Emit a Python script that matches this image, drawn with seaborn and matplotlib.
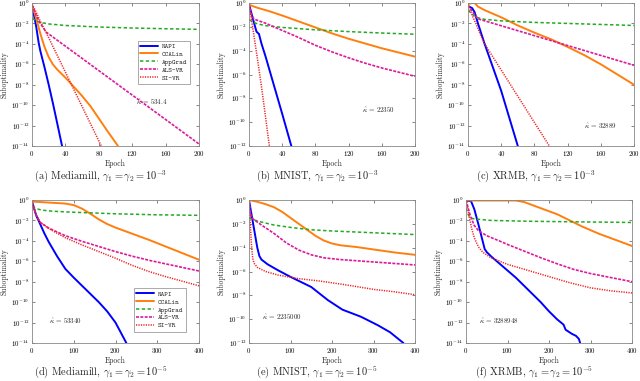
import numpy as np
import pandas as pd
import matplotlib
matplotlib.use("Agg")
import matplotlib.pyplot as plt
import seaborn as sns

# log10 of suboptimality
methods = ['NAPI', 'CCALin', 'AppGrad', 'ALS-VR', 'SI-VR']

# (a) Mediamill, gamma = 1e-3
a_napi_x = [0, 5, 8, 10, 15, 20, 25, 30, 36]
a_napi_y = [-0.2, -2.3, -3.9, -4.7, -6.3, -8.0, -9.8, -11.7, -14]
a_ccal_x = [0, 5, 10, 15, 20, 25, 30, 35, 40, 50, 60, 70, 80, 90, 103]
a_ccal_y = [-0.2, -1.5, -3.0, -4.3, -5.3, -6.0, -6.5, -6.9, -7.3, -8.2, -9.1, -10.1, -11.3, -12.5, -14]
a_app_x = [0, 5, 10, 20, 40, 80, 120, 160, 200]
a_app_y = [-1.5, -1.75, -1.9, -2.05, -2.2, -2.35, -2.45, -2.52, -2.58]
a_als_x = [0, 5, 10, 17, 200]
a_als_y = [-0.2, -1.2, -2.0, -2.85, -13.8]
a_si_x = [0, 5, 10, 17, 83]
a_si_y = [-0.1, -0.9, -1.8, -2.9, -14]

# (b) MNIST, gamma = 1e-3
b_napi_x = [0, 5, 9, 12, 15, 20, 30, 40, 51]
b_napi_y = [-0.1, -1.4, -2.4, -2.6, -3.4, -4.5, -6.9, -9.3, -12]
b_ccal_x = [0, 10, 25, 40, 60, 80, 100, 120, 140, 160, 180, 200]
b_ccal_y = [-0.15, -0.4, -0.7, -1.05, -1.55, -2.05, -2.55, -3.0, -3.4, -3.8, -4.15, -4.5]
b_app_x = [0, 5, 10, 20, 40, 80, 120, 160, 200]
b_app_y = [-1.4, -1.6, -1.75, -1.9, -2.05, -2.25, -2.4, -2.52, -2.62]
b_als_x = [0, 3, 6, 20, 40, 60, 80, 100, 120, 140, 160, 180, 200]
b_als_y = [-0.1, -1.0, -1.35, -1.7, -2.3, -2.9, -3.55, -4.1, -4.6, -5.05, -5.45, -5.8, -6.15]
b_si_x = [0, 5, 10, 15, 20, 24.5]
b_si_y = [-0.1, -2.3, -4.6, -7.0, -9.6, -12]

# (c) XRMB, gamma = 1e-3
c_napi_x = [0, 5, 8, 12, 20, 30, 40, 50, 60]
c_napi_y = [-0.3, -0.5, -0.9, -2.0, -4.0, -6.3, -8.6, -11.3, -14]
c_ccal_x = [0, 5, 8, 12, 20, 40, 60, 80, 100, 120, 140, 160, 180, 200]
c_ccal_y = [-0.1, 0.0, 0.0, -0.35, -0.7, -1.4, -2.2, -2.9, -3.55, -4.3, -5.1, -6.0, -7.0, -8.0]
c_app_x = [0, 5, 10, 20, 40, 80, 120, 160, 200]
c_app_y = [-0.7, -1.1, -1.4, -1.6, -1.75, -1.9, -2.0, -2.1, -2.2]
c_als_x = [0, 5, 12, 200]
c_als_y = [-0.2, -0.8, -1.55, -6.1]
c_si_x = [0, 5, 10, 15, 20, 98]
c_si_y = [-0.2, -1.2, -2.1, -3.1, -4.0, -14]

# (d) Mediamill, gamma = 1e-5
d_napi_x = [0, 10, 20, 30, 40, 60, 80, 100, 120, 140, 160, 180, 200, 226]
d_napi_y = [-0.15, -1.5, -2.4, -3.3, -4.1, -5.5, -6.75, -7.6, -8.4, -9.2, -10.0, -10.9, -12.0, -14]
d_ccal_x = [0, 40, 80, 100, 120, 140, 160, 180, 200, 240, 280, 320, 360, 400]
d_ccal_y = [-0.15, -0.25, -0.35, -0.5, -0.85, -1.35, -1.9, -2.35, -2.7, -3.3, -3.9, -4.55, -5.2, -5.85]
d_app_x = [0, 10, 25, 50, 100, 200, 300, 400]
d_app_y = [-0.7, -0.85, -1.0, -1.1, -1.2, -1.35, -1.45, -1.5]
d_als_x = [0, 10, 20, 40, 80, 120, 160, 200, 240, 280, 320, 360, 400]
d_als_y = [-0.15, -1.5, -2.2, -2.75, -3.5, -4.05, -4.55, -5.05, -5.5, -5.9, -6.25, -6.6, -6.95]
d_si_x = [0, 10, 20, 40, 80, 120, 160, 200, 240, 280, 320, 360, 400]
d_si_y = [-0.15, -1.5, -2.2, -2.8, -3.7, -4.4, -5.05, -5.7, -6.4, -7.0, -7.5, -7.95, -8.4]

# (e) MNIST, gamma = 1e-5
e_napi_x = [0, 5, 10, 15, 20, 25, 30, 45, 70, 100, 150, 190, 225, 270, 310, 340, 372]
e_napi_y = [0, -1.0, -2.0, -3.0, -4.0, -4.7, -5.0, -5.4, -5.9, -6.45, -7.3, -8.4, -9.2, -9.8, -10.5, -11.1, -12]
e_ccal_x = [0, 20, 40, 60, 80, 100, 120, 140, 160, 180, 200, 220, 260, 300, 350, 400]
e_ccal_y = [0, -0.15, -0.35, -0.6, -1.0, -1.5, -2.0, -2.5, -3.0, -3.4, -3.65, -3.8, -3.95, -4.15, -4.4, -4.6]
e_app_x = [0, 10, 30, 60, 100, 150, 200, 300, 400]
e_app_y = [-1.5, -1.65, -1.85, -2.1, -2.3, -2.5, -2.6, -2.75, -2.9]
e_als_x = [0, 5, 10, 30, 60, 90, 120, 150, 180, 220, 300, 400]
e_als_y = [-0.1, -1.4, -1.6, -2.1, -2.8, -3.6, -4.2, -4.6, -4.85, -5.0, -5.2, -5.45]
e_si_x = [0, 3, 6, 9, 12, 20, 40, 70, 120, 170, 230, 300, 350, 400]
e_si_y = [0, -2.0, -3.8, -4.9, -5.3, -5.65, -6.0, -6.3, -6.6, -6.8, -7.1, -7.5, -7.7, -7.95]

# (f) XRMB, gamma = 1e-5
f_napi_x = [0, 12, 20, 30, 40, 45, 50, 60, 80, 100, 120, 140, 160, 180, 200, 220, 235, 240, 255, 265, 272, 275]
f_napi_y = [-0.1, -0.1, -0.9, -2.4, -4.0, -4.8, -5.1, -5.5, -6.2, -6.9, -7.6, -8.4, -9.2, -10.0, -10.9, -11.7, -12.2, -12.7, -13.1, -13.3, -13.6, -14]
f_ccal_x = [0, 120, 140, 160, 180, 200, 220, 240, 260, 280, 300, 320, 360, 400]
f_ccal_y = [-0.05, -0.05, -0.2, -0.5, -0.8, -1.1, -1.4, -1.8, -2.2, -2.6, -2.95, -3.3, -3.9, -4.5]
f_app_x = [0, 5, 10, 20, 60, 150, 250, 400]
f_app_y = [-0.8, -1.4, -1.75, -1.85, -2.0, -2.08, -2.13, -2.2]
f_als_x = [0, 10, 20, 30, 50, 80, 100, 140, 180, 220, 260, 300, 350, 400]
f_als_y = [0, -1.5, -2.5, -3.0, -3.5, -4.0, -4.35, -5.0, -5.65, -6.25, -6.8, -7.2, -7.6, -8.0]
f_si_x = [0, 5, 10, 15, 20, 30, 40, 60, 100, 150, 200, 250, 300, 350, 400]
f_si_y = [0, -1.0, -2.1, -3.0, -3.7, -4.6, -5.1, -5.65, -6.3, -6.9, -7.5, -8.1, -8.6, -8.9, -9.1]

captions = [
    r'(a) Mediamill, $\gamma_1 = \gamma_2 = 10^{-3}$',
    r'(b) MNIST, $\gamma_1 = \gamma_2 = 10^{-3}$',
    r'(c) XRMB, $\gamma_1 = \gamma_2 = 10^{-3}$',
    r'(d) Mediamill, $\gamma_1 = \gamma_2 = 10^{-5}$',
    r'(e) MNIST, $\gamma_1 = \gamma_2 = 10^{-5}$',
    r'(f) XRMB, $\gamma_1 = \gamma_2 = 10^{-5}$',
]
kappas = ['534.4', '22350', '32889', '53340', '2235000', '3288948']
x_max = [200, 200, 200, 400, 400, 400]
y_min = [-14, -12, -14, -14, -12, -14]

panels = [
    [(a_napi_x, a_napi_y), (a_ccal_x, a_ccal_y), (a_app_x, a_app_y), (a_als_x, a_als_y), (a_si_x, a_si_y)],
    [(b_napi_x, b_napi_y), (b_ccal_x, b_ccal_y), (b_app_x, b_app_y), (b_als_x, b_als_y), (b_si_x, b_si_y)],
    [(c_napi_x, c_napi_y), (c_ccal_x, c_ccal_y), (c_app_x, c_app_y), (c_als_x, c_als_y), (c_si_x, c_si_y)],
    [(d_napi_x, d_napi_y), (d_ccal_x, d_ccal_y), (d_app_x, d_app_y), (d_als_x, d_als_y), (d_si_x, d_si_y)],
    [(e_napi_x, e_napi_y), (e_ccal_x, e_ccal_y), (e_app_x, e_app_y), (e_als_x, e_als_y), (e_si_x, e_si_y)],
    [(f_napi_x, f_napi_y), (f_ccal_x, f_ccal_y), (f_app_x, f_app_y), (f_als_x, f_als_y), (f_si_x, f_si_y)],
]

colors = {'NAPI': '#0000ff', 'CCALin': '#ff7f0e', 'AppGrad': '#22aa22',
          'ALS-VR': '#dd1a99', 'SI-VR': '#ee2222'}
styles = {'NAPI': '-', 'CCALin': '-', 'AppGrad': (0, (2.2, 1.6)),
          'ALS-VR': (0, (1.8, 0.8)), 'SI-VR': (0, (0.8, 0.8))}
widths = {'NAPI': 1.4, 'CCALin': 1.4, 'AppGrad': 1.1, 'ALS-VR': 1.2, 'SI-VR': 1.1}

sns.set_theme(style="ticks")
plt.rcParams['font.family'] = ['cmr10', 'DejaVu Serif']
plt.rcParams['mathtext.fontset'] = 'cm'
plt.rcParams['axes.formatter.use_mathtext'] = True
plt.rcParams['axes.unicode_minus'] = False

fig = plt.figure(figsize=(6.4, 3.81), dpi=100)

# axes boxes in pixels: left, top, right, bottom
boxes = [(32, 3, 199, 146), (249, 3, 415, 146), (468, 3, 634, 146),
         (32, 200, 199, 343), (249, 200, 415, 343), (466, 200, 632, 343)]
kappa_pos = [(0.72, 0.31), (0.78, 0.25), (0.8, 0.14), (0.2, 0.15), (0.2, 0.18), (0.2, 0.15)]
legend_anchor = {0: (0.965, 0.585), 3: (0.94, 0.23)}
caption_y = [176, 176, 176, 372, 372, 372]
W, H = 640, 381

for i, (l, t, r, b) in enumerate(boxes):
    ax = fig.add_axes([l / W, 1 - b / H, (r - l) / W, (b - t) / H])
    for name, (xs, ys) in zip(methods, panels[i]):
        df = pd.DataFrame({'epoch': xs, 'sub': np.power(10.0, ys)})
        sns.lineplot(data=df, x='epoch', y='sub', ax=ax, color=colors[name],
                     linestyle=styles[name], linewidth=widths[name], label=name,
                     legend=False)
    ax.set_yscale('log')
    ax.set_xlim(0, x_max[i])
    ax.set_ylim(10.0 ** y_min[i], 1.0)
    ax.set_yticks([10.0 ** k for k in range(y_min[i], 1, 2)])
    ax.yaxis.set_minor_locator(matplotlib.ticker.NullLocator())
    ax.set_xticks(np.linspace(0, x_max[i], 6 if x_max[i] == 200 else 5))
    ax.tick_params(direction='in', length=2.5, width=0.5, labelsize=5, pad=2,
                   top=True, right=True, colors='#555555', labelcolor='black')
    for sp in ax.spines.values():
        sp.set_linewidth(0.6)
        sp.set_color('#888888')
    ax.set_xlabel('Epoch', fontsize=5.5, labelpad=1.5)
    ax.set_ylabel('Suboptimality', fontsize=5.5, labelpad=2)
    ax.text(kappa_pos[i][0], kappa_pos[i][1], r'$\hat{\kappa}$ = ' + kappas[i],
            transform=ax.transAxes, fontsize=5, ha='center', va='center')
    if i in legend_anchor:
        leg = ax.legend(loc='center right', bbox_to_anchor=legend_anchor[i],
                        handlelength=2.6, labelspacing=0.15, borderpad=0.35,
                        handletextpad=0.5, fancybox=False, framealpha=1,
                        edgecolor='#888888',
                        prop={'family': ['cmtt10', 'DejaVu Sans Mono'], 'size': 5})
        leg.get_frame().set_linewidth(0.5)
    cx = (l + r) / 2 - 15
    fig.text(cx / W, 1 - caption_y[i] / H, captions[i], fontsize=7.5,
             ha='center', va='center')

fig.savefig('out.png', dpi=100)
